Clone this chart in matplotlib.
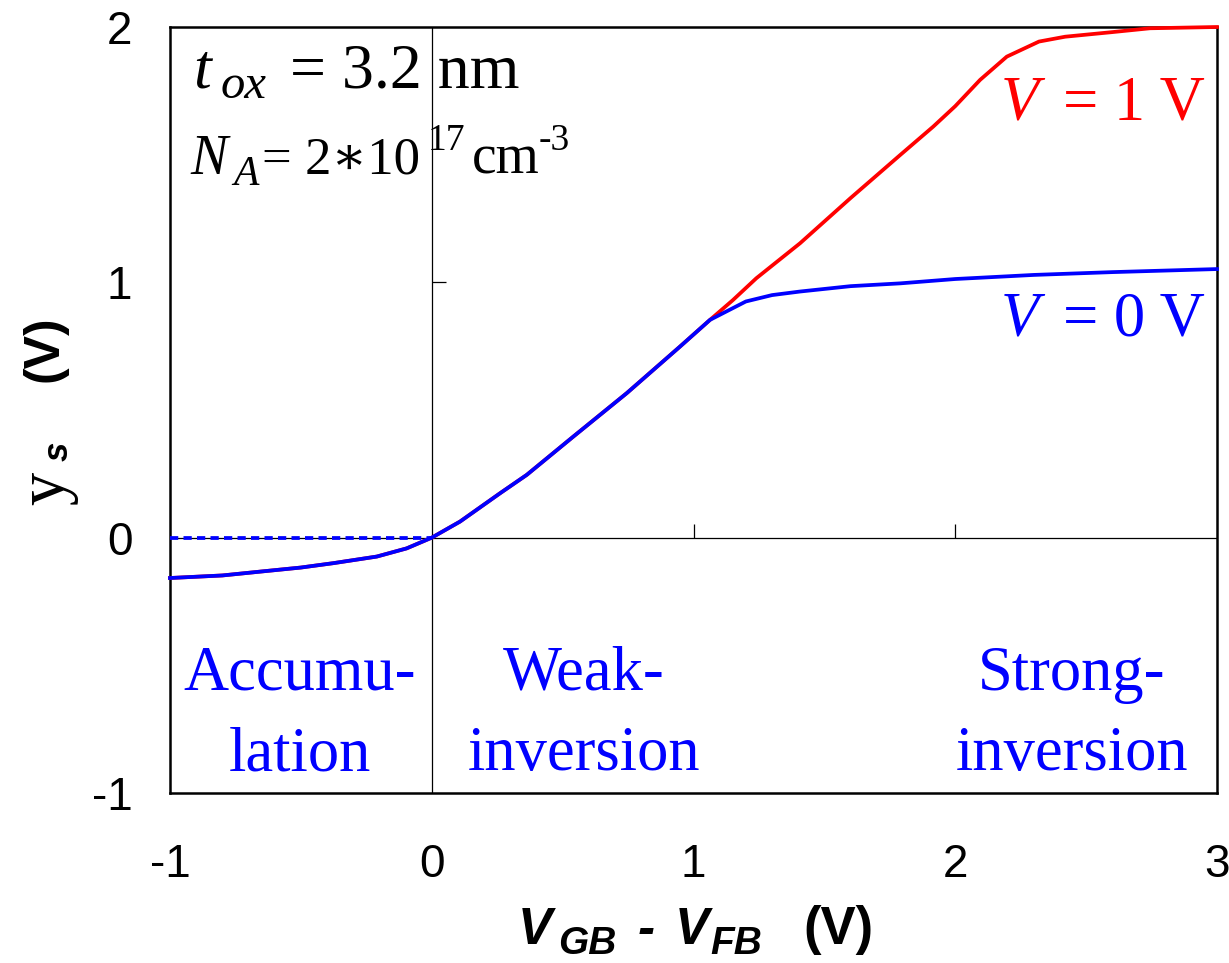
import numpy as np
import matplotlib
matplotlib.use("Agg")
import matplotlib.pyplot as plt

# Surface potential vs. gate voltage for a MOS capacitor
vgb_common = [-1.0, -0.8, -0.656, -0.5, -0.377, -0.21, -0.096, 0.0,
              0.108, 0.261, 0.363, 0.541, 0.745, 0.948, 1.063]
psi_common = [-0.158, -0.148, -0.133, -0.117, -0.100, -0.074, -0.042, 0.0,
              0.063, 0.174, 0.246, 0.396, 0.566, 0.748, 0.853]

vgb_v0_tail = [1.2, 1.3, 1.407, 1.6, 1.79, 2.0, 2.3, 2.6, 3.0]
psi_v0_tail = [0.925, 0.950, 0.964, 0.985, 0.996, 1.013, 1.029, 1.040, 1.052]

vgb_v1_tail = [1.15, 1.24, 1.407, 1.6, 1.79, 1.916, 2.0, 2.095, 2.197,
               2.32, 2.42, 2.6, 2.744, 3.0]
psi_v1_tail = [0.93, 1.016, 1.153, 1.33, 1.499, 1.61, 1.69, 1.793, 1.884,
               1.943, 1.962, 1.98, 1.995, 2.0]

accum_x = [-1.0, 0.0]
accum_y = [0.0, 0.0]

xticks = [-1, 0, 1, 2, 3]
yticks = [-1, 0, 1, 2]
inner_xticks = [1, 2]
inner_yticks = [1]

W, H = 1229, 963
fig = plt.figure(figsize=(W / 100, H / 100), dpi=100)
ax = fig.add_axes([170 / W, 1 - 793 / H, (1217 - 170) / W, (793 - 27) / H])

SANS = "Liberation Sans"
SERIF = "Liberation Serif"
RED = "#ff0000"
BLUE = "#0000ff"

x_v0 = vgb_common + vgb_v0_tail
y_v0 = psi_common + psi_v0_tail
x_v1 = vgb_common + vgb_v1_tail
y_v1 = psi_common + psi_v1_tail

# inner axes through the origin
ax.axhline(0, color="black", lw=0.9, zorder=1)
ax.axvline(0, color="black", lw=0.9, zorder=1)
ax.plot(inner_xticks, [0] * len(inner_xticks), ls="none", marker=2,
        ms=10, mew=0.9, color="black", zorder=1)
ax.plot([0] * len(inner_yticks), inner_yticks, ls="none", marker=1,
        ms=10, mew=0.9, color="black", zorder=1)

ax.plot(x_v1, y_v1, color=RED, lw=2.7, zorder=3, clip_on=False)
ax.plot(x_v0, y_v0, color=BLUE, lw=2.7, zorder=4, clip_on=False)
ax.plot(accum_x, accum_y, color=BLUE, lw=2.7, ls=(0, (2.2, 1.4)), zorder=4)

ax.set_xlim(-1, 3)
ax.set_ylim(-1, 2)
ax.set_xticks(xticks)
ax.set_yticks(yticks)
ax.set_xticklabels([str(t) for t in xticks], fontfamily=SANS, fontsize=33)
ax.set_yticklabels([str(t) for t in yticks], fontfamily=SANS, fontsize=33)
ax.tick_params(axis="x", length=0, pad=36)
ax.tick_params(axis="y", length=0, pad=27)
for sp in ax.spines.values():
    sp.set_linewidth(1.8)


def put(xp, yp, s, size, family=SERIF, style="normal", weight="normal",
        color="black", ha="left", va="baseline", rotation=0):
    fig.text(xp / W, 1 - yp / H, s, fontsize=size, family=family,
             style=style, weight=weight, color=color, ha=ha, va=va,
             rotation=rotation, rotation_mode="anchor")


# parameter annotations
put(193, 87, "t", 46, style="italic")
put(221, 98, "ox", 35, style="italic")
put(290, 87, "= 3.2 nm", 46)
put(190, 174, "N", 40, style="italic")
put(233, 185, "A", 30, style="italic")
put(262, 174, "= 2\u221710", 38, family=[SERIF, "DejaVu Serif"])
put(428, 150, "17", 27)
put(472, 174, "cm", 40)
put(539, 150, "-3", 27)

# curve labels
put(1001, 119, "V", 45, style="italic", color=RED)
put(1063, 119, "= 1 V", 45, color=RED)
put(1001, 335, "V", 45, style="italic", color=BLUE)
put(1063, 335, "= 0 V", 45, color=BLUE)

# operating regions
for cx, top, bottom in [(300, "Accumu-", "lation"),
                        (584, "Weak-", "inversion"),
                        (1072, "Strong-", "inversion")]:
    put(cx, 690, top, 45, color=BLUE, ha="center")
    put(cx, 770, bottom, 45, color=BLUE, ha="center")

# x-axis label
put(518, 944, "V", 37, family=SANS, style="italic", weight="bold")
put(558, 954, "GB", 28, family=SANS, style="italic", weight="bold")
put(638, 944, "-", 37, family=SANS, style="italic", weight="bold")
put(675, 944, "V", 37, family=SANS, style="italic", weight="bold")
put(710, 954, "FB", 28, family=SANS, style="italic", weight="bold")
put(803, 944, "(V)", 38, family=SANS, weight="bold")

# y-axis label
put(64, 505, "y", 48, rotation=90)
put(68, 461, "s", 25, family=SANS, style="italic", weight="bold", rotation=90)
put(57, 382, "(V)", 36, family=SANS, weight="bold", rotation=90)

fig.savefig("out.png", dpi=100)
